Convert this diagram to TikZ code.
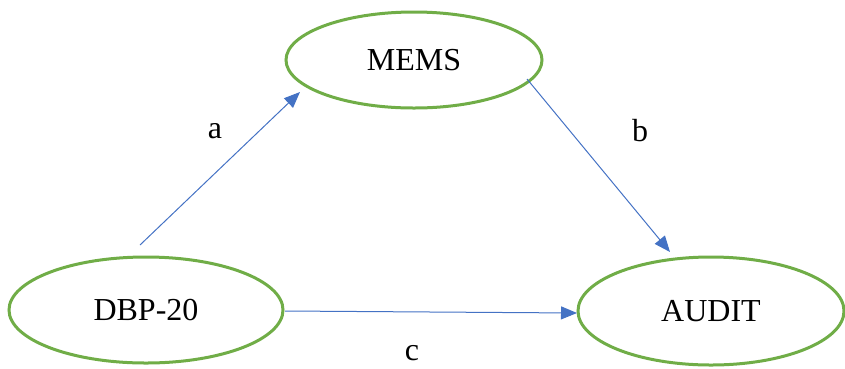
\documentclass[tikz,border=0pt]{standalone}
\usepackage{fontspec}
\setmainfont{Liberation Serif}
\usetikzlibrary{shapes.geometric,arrows.meta}
\definecolor{egreen}{HTML}{70AD47}
\definecolor{ablue}{HTML}{4472C4}
\begin{document}
\begin{tikzpicture}[x=1pt,y=-1pt,
  var/.style={ellipse,draw=egreen,line width=3pt,inner sep=0pt,font=\fontsize{32}{36}\selectfont},
  conn/.style={draw=ablue,line width=1pt,-{Triangle[length=16pt,width=13pt]}},
  lbl/.style={font=\fontsize{32}{36}\selectfont}]
\useasboundingbox (0,0) rectangle (845,368);
\node[var,minimum width=256pt,minimum height=96pt] (mems) at (414,60) {MEMS};
\node[var,minimum width=274pt,minimum height=106pt] (dbp) at (146,310) {DBP-20};
\node[var,minimum width=266pt,minimum height=108pt] (audit) at (711,311) {AUDIT};
\coordinate (a1) at (140,245);
\coordinate (a2) at (300,92);
\coordinate (b1) at (527,79);
\coordinate (b2) at (670,252);
\coordinate (c1) at (285,311);
\coordinate (c2) at (577,313);
\draw[conn] (a1) -- (a2);
\draw[conn] (b1) -- (b2);
\draw[conn] (c1) -- (c2);
\node[lbl] (la) at (215,131) {a};
\node[lbl] (lb) at (640,131) {b};
\node[lbl] (lc) at (412,353) {c};
\end{tikzpicture}
\end{document}
